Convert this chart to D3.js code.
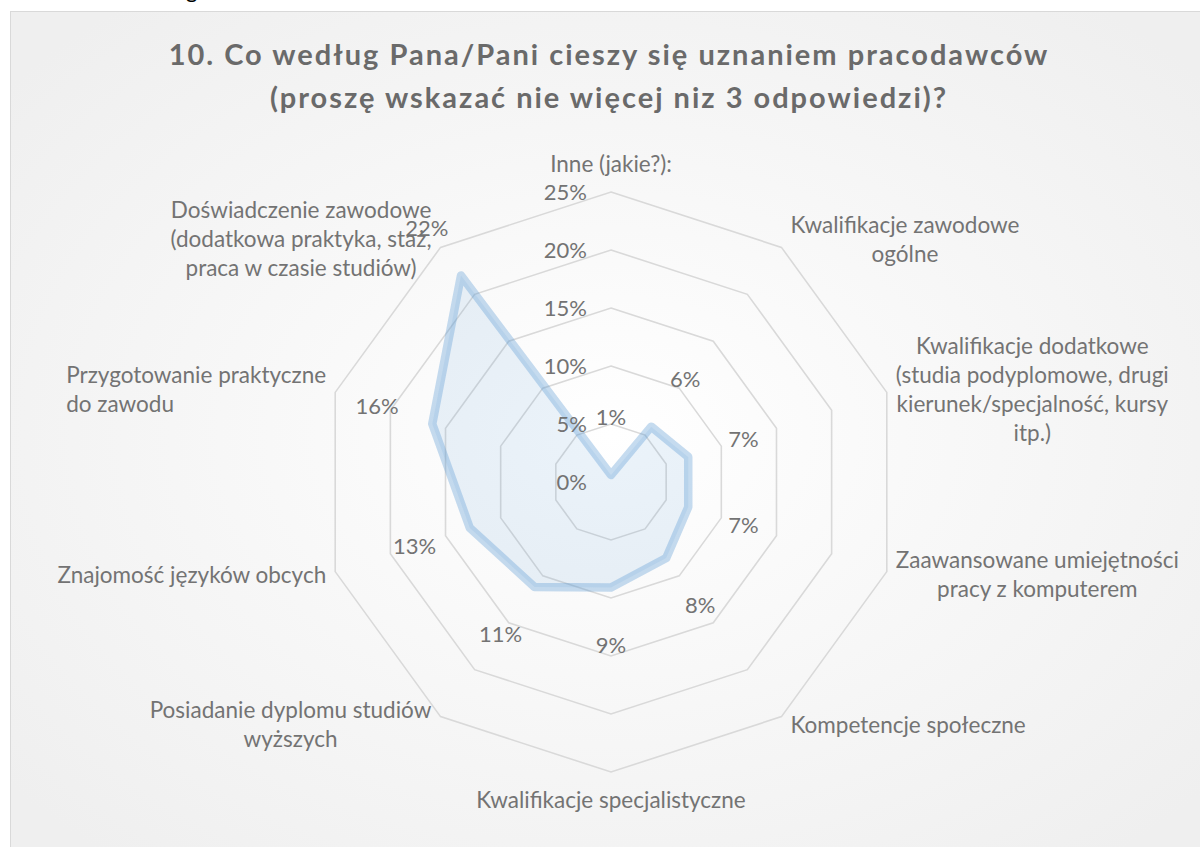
<!DOCTYPE html>
<html>
<head>
<meta charset="utf-8">
<script src="https://cdn.jsdelivr.net/npm/d3@7"></script>
<style>
  html, body { margin: 0; padding: 0; background: #ffffff; }
  svg { display: block; }
  text { font-family: Lato, "Open Sans", sans-serif; }
</style>
</head>
<body>
<svg id="svg-main"></svg>
<script>
const TITLE_LINES = [
    "10. Co według Pana/Pani cieszy się uznaniem pracodawców",
    "(proszę wskazać nie więcej niz 3 odpowiedzi)?"
];

// category labels, already wrapped the way the chart wraps them
const CATEGORIES = [
    ["Inne (jakie?):"],
    ["Kwalifikacje zawodowe", "ogólne"],
    ["Kwalifikacje dodatkowe", "(studia podyplomowe, drugi", "kierunek/specjalność, kursy", "itp.)"],
    ["Zaawansowane umiejętności", "pracy z komputerem"],
    ["Kompetencje społeczne"],
    ["Kwalifikacje specjalistyczne"],
    ["Posiadanie dyplomu studiów", "wyższych"],
    ["Znajomość języków obcych"],
    ["Przygotowanie praktyczne", "do zawodu"],
    ["Doświadczenie zawodowe", "(dodatkowa praktyka, staż,", "praca w czasie studiów)"]
];

// share of answers, percent
const VALUES = [0.6, 5.9, 7.0, 7.0, 8.1, 9.1, 11.2, 12.8, 16.2, 22.0];

const TICKS = [0, 5, 10, 15, 20, 25];

var Dims = {
    Svg : { Width: 1200, Height: 847 },
    Box : { X: 10.5, Y: 11.5 },
    Center : { X: 611, Y: 482 },
    Radius : 290,
    LineHeight : 29,
    LabelGap : 9,
    DataLabelOffset : 58
};

// this one label is left aligned in the original
var LEFT_ALIGNED = [8];

var COLORS = {
    title: "#6a6a6a",
    text: "#737373",
    grid: "#d9d9d9",
    border: "#d9d9d9",
    series: "#5b9bd5"
};

var svg = d3.select("#svg-main")
    .attr("width", Dims.Svg.Width)
    .attr("height", Dims.Svg.Height);

var rScale = d3.scaleLinear().domain([0, 25]).range([0, Dims.Radius]);
var aScale = d3.scaleLinear().domain([0, CATEGORIES.length]).range([0, 2 * Math.PI]);

drawChart();

function drawChart() {
    drawBackground();
    drawTitle();

    var chart = svg.append("g")
        .attr("transform", `translate(${Dims.Center.X},${Dims.Center.Y})`);

    drawGrid(chart);
    drawSeries(chart);
    drawTickLabels(chart);
    drawDataLabels(chart);
    drawCategoryLabels(chart);
}

function drawBackground() {
    var defs = svg.append("defs");
    var grad = defs.append("radialGradient")
        .attr("id", "bg-grad")
        .attr("cx", "50%").attr("cy", "50%").attr("r", "65%");
    grad.append("stop").attr("offset", "0%").attr("stop-color", "#ffffff");
    grad.append("stop").attr("offset", "100%").attr("stop-color", "#efefef");

    // cut-off fragment of the document text above the chart
    svg.append("text")
        .attr("x", 186)
        .attr("y", -2)
        .attr("font-size", 22)
        .attr("fill", "#000000")
        .text("g");

    svg.append("rect")
        .attr("x", Dims.Box.X)
        .attr("y", Dims.Box.Y)
        .attr("width", Dims.Svg.Width)
        .attr("height", Dims.Svg.Height)
        .attr("fill", "url(#bg-grad)")
        .attr("stroke", COLORS.border)
        .attr("stroke-width", 1);
}

function drawTitle() {
    svg.append("text")
        .attr("text-anchor", "middle")
        .attr("font-size", 29)
        .attr("font-weight", "bold")
        .attr("letter-spacing", 2)
        .attr("fill", COLORS.title)
        .selectAll("tspan")
        .data(TITLE_LINES)
        .enter()
        .append("tspan")
        .attr("x", 609)
        .attr("y", function (d, i) { return 65 + i * 43; })
        .text(function (d) { return d; });
}

function ringLine(value) {
    return d3.lineRadial()
        .angle(function (d, i) { return aScale(i); })
        .radius(rScale(value))
        .curve(d3.curveLinearClosed);
}

function drawGrid(chart) {
    chart.selectAll(".ring")
        .data(TICKS.filter(function (t) { return t > 0; }))
        .enter()
        .append("path")
        .attr("class", "ring")
        .attr("d", function (t) { return ringLine(t)(CATEGORIES); })
        .attr("fill", "none")
        .attr("stroke", COLORS.grid)
        .attr("stroke-width", 1.6);
}

function drawSeries(chart) {
    var line = d3.lineRadial()
        .angle(function (d, i) { return aScale(i); })
        .radius(function (d) { return rScale(d); })
        .curve(d3.curveLinearClosed);

    chart.append("path")
        .attr("d", line(VALUES))
        .attr("fill", COLORS.series)
        .attr("fill-opacity", 0.12)
        .attr("stroke", COLORS.series)
        .attr("stroke-opacity", 0.35)
        .attr("stroke-width", 8.5)
        .attr("stroke-linejoin", "round");
}

function drawTickLabels(chart) {
    chart.selectAll(".tick-label")
        .data(TICKS)
        .enter()
        .append("text")
        .attr("class", "tick-label")
        .attr("x", -24)
        .attr("y", function (t) { return -rScale(t); })
        .attr("dy", "0.35em")
        .attr("text-anchor", "end")
        .attr("font-size", 22)
        .attr("fill", COLORS.text)
        .text(function (t) { return t + "%"; });
}

function drawDataLabels(chart) {
    chart.selectAll(".data-label")
        .data(VALUES)
        .enter()
        .append("text")
        .attr("class", "data-label")
        .attr("x", function (d, i) {
            return Math.sin(aScale(i)) * (rScale(d) + Dims.DataLabelOffset);
        })
        .attr("y", function (d, i) {
            return -Math.cos(aScale(i)) * (rScale(d) + Dims.DataLabelOffset);
        })
        .attr("dy", "0.35em")
        .attr("text-anchor", "middle")
        .attr("font-size", 22)
        .attr("fill", COLORS.text)
        .text(function (d) { return Math.round(d) + "%"; });
}

function drawCategoryLabels(chart) {
    var groups = chart.selectAll(".cat-label")
        .data(CATEGORIES)
        .enter()
        .append("text")
        .attr("class", "cat-label")
        .attr("text-anchor", "middle")
        .attr("font-size", 22.5)
        .attr("fill", COLORS.text);

    groups.selectAll("tspan")
        .data(function (d) { return d; })
        .enter()
        .append("tspan")
        .attr("x", 0)
        .attr("y", function (d, i, nodes) {
            return (i - (nodes.length - 1) / 2) * Dims.LineHeight;
        })
        .attr("dy", "0.35em")
        .text(function (d) { return d; });

    groups.each(function (d, i) {
        var g = d3.select(this);
        var w = this.getBBox().width;
        if (LEFT_ALIGNED.indexOf(i) >= 0) {
            // left aligned lines start at the block's left edge
            g.attr("text-anchor", "start");
            g.selectAll("tspan").attr("x", -w / 2);
        }

        var a = aScale(i);
        var s = Math.sin(a), c = Math.cos(a);
        var vx = s * Dims.Radius, vy = -c * Dims.Radius;
        if (Math.abs(s) < 0.1) {
            g.attr("transform", `translate(${vx},${vy - c * 28})`);
            return;
        }
        var x = vx + Math.sign(s) * (Dims.LabelGap + w / 2);
        g.attr("transform", `translate(${x},${vy - 10 * c})`);
    });
}
</script>
</body>
</html>
